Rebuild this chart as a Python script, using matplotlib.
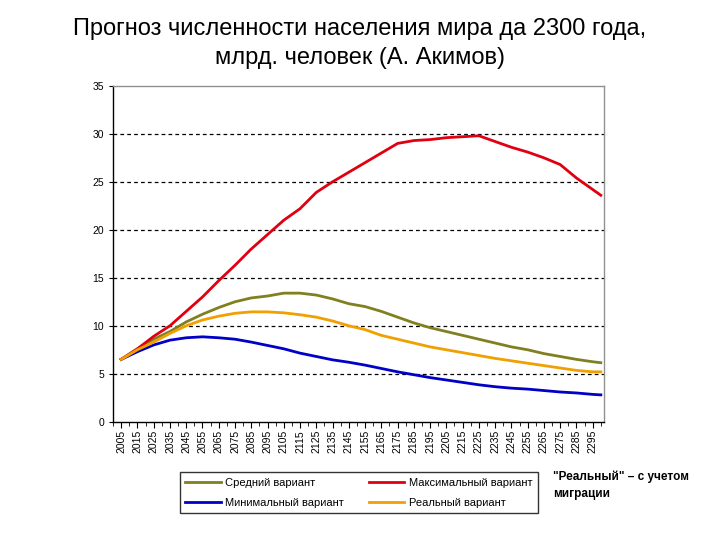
import matplotlib
matplotlib.use("Agg")
import matplotlib.pyplot as plt
import numpy as np

plt.rcParams['font.family'] = ['Liberation Sans', 'DejaVu Sans']

years = [2005, 2015, 2025, 2035, 2045, 2055, 2065, 2075, 2085, 2095,
         2105, 2115, 2125, 2135, 2145, 2155, 2165, 2175, 2185, 2195,
         2205, 2215, 2225, 2235, 2245, 2255, 2265, 2275, 2285, 2295, 2300]

medium = [6.5, 7.6, 8.6, 9.4, 10.4, 11.2, 11.9, 12.5, 12.9, 13.1,
          13.4, 13.4, 13.2, 12.8, 12.3, 12.0, 11.5, 10.9, 10.3, 9.8,
          9.4, 9.0, 8.6, 8.2, 7.8, 7.5, 7.1, 6.8, 6.5, 6.25, 6.15]

maximum = [6.5, 7.6, 8.9, 10.0, 11.5, 13.0, 14.7, 16.3, 18.0, 19.5,
           21.0, 22.2, 23.9, 25.0, 26.0, 27.0, 28.0, 29.0, 29.3, 29.4,
           29.6, 29.7, 29.8, 29.2, 28.6, 28.1, 27.5, 26.8, 25.4, 24.2, 23.6]

minimum = [6.5, 7.3, 8.0, 8.5, 8.75, 8.85, 8.75, 8.6, 8.3, 7.95,
           7.6, 7.15, 6.8, 6.45, 6.2, 5.9, 5.55, 5.2, 4.9, 4.6,
           4.35, 4.1, 3.85, 3.65, 3.5, 3.4, 3.25, 3.1, 3.0, 2.85, 2.8]

real = [6.5, 7.5, 8.3, 9.2, 10.0, 10.6, 11.0, 11.3, 11.45, 11.45,
        11.35, 11.15, 10.9, 10.5, 10.0, 9.6, 9.0, 8.6, 8.2, 7.8,
        7.5, 7.2, 6.9, 6.6, 6.35, 6.1, 5.85, 5.6, 5.35, 5.2, 5.2]

tick_years = list(range(2005, 2300, 10))
y_ticks = [0, 5, 10, 15, 20, 25, 30, 35]

title = "Прогноз численности населения мира да 2300 года,\nмлрд. человек (А. Акимов)"
labels = ["Средний вариант", "Минимальный вариант", "Максимальный вариант", "Реальный вариант"]
note = "\"Реальный\" – с учетом\nмиграции"

fig = plt.figure(figsize=(7.2, 5.4), dpi=100)
ax = fig.add_axes([0.157, 0.219, 0.682, 0.622])

l_med, = ax.plot(years, medium, color='#808020', lw=2)
l_min, = ax.plot(years, minimum, color='#0000c8', lw=2)
l_max, = ax.plot(years, maximum, color='#e00010', lw=2)
l_real, = ax.plot(years, real, color='#f0a000', lw=2)

ax.set_xlim(2002.5, 2302)
ax.set_ylim(0, 35)
ax.set_yticks(y_ticks)
ax.set_xticks(tick_years)
ax.set_xticks(list(range(2000, 2301, 5)), minor=True)
ax.set_xticklabels([str(y) for y in tick_years], rotation=90, fontsize=7.5)
ax.tick_params(axis='y', labelsize=7.5, direction='out', length=3)
ax.tick_params(axis='x', which='major', direction='out', length=4, pad=2)
ax.tick_params(axis='x', which='minor', direction='out', length=3)

for v in y_ticks[1:-1]:
    ax.axhline(v, color='black', lw=0.9, ls=(0, (3, 2.5)), zorder=0)

ax.spines['left'].set_color('black')
ax.spines['bottom'].set_color('black')
ax.spines['top'].set_color('#909090')
ax.spines['right'].set_color('#909090')
for s in ax.spines.values():
    s.set_linewidth(1)

fig.text(0.5, 0.967, title, ha='center', va='top', fontsize=17, linespacing=1.45)

leg = fig.legend([l_med, l_min, l_max, l_real], labels, ncol=2,
                 loc='upper left', bbox_to_anchor=(0.242, 0.136),
                 fontsize=8, frameon=True, fancybox=False, edgecolor='black',
                 handlelength=3.2, handletextpad=0.4, columnspacing=2.2,
                 borderpad=0.5, labelspacing=0.9)
leg.get_frame().set_linewidth(1)

fig.text(0.768, 0.128, note, ha='left', va='top', fontsize=8.5, fontweight='bold',
         linespacing=1.5)

fig.savefig("out.png", dpi=100)
